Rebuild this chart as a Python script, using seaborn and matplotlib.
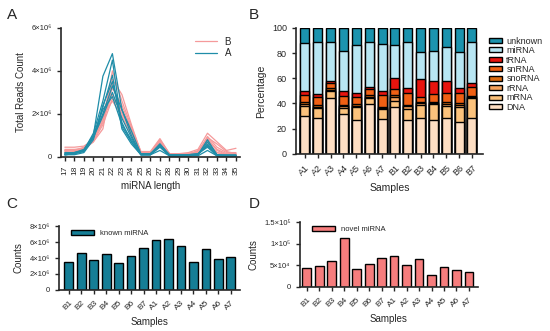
import numpy as np
import pandas as pd
import matplotlib
matplotlib.use('Agg')
import matplotlib.pyplot as plt
import seaborn as sns

# ---- data ----
lengths = list(range(17, 36))
reads_a = {
    'A1': [0.15, 0.2, 0.25, 1.0, 3.75, 4.8, 2.2, 1.0, 0.1, 0.1, 0.45, 0.05, 0.05, 0.05, 0.1, 0.55, 0.05, 0.05, 0.05],
    'A2': [0.1, 0.15, 0.3, 1.1, 2.6, 4.5, 1.4, 0.7, 0.1, 0.1, 0.6, 0.05, 0.05, 0.05, 0.1, 0.8, 0.1, 0.05, 0.05],
    'A3': [0.1, 0.15, 0.25, 0.9, 2.3, 3.8, 1.3, 0.6, 0.1, 0.1, 0.3, 0.05, 0.05, 0.05, 0.05, 0.3, 0.05, 0.05, 0.05],
    'A4': [0.15, 0.2, 0.3, 1.0, 2.0, 3.3, 2.2, 1.2, 0.15, 0.15, 0.5, 0.1, 0.1, 0.1, 0.15, 0.5, 0.1, 0.1, 0.1],
    'A5': [0.1, 0.15, 0.3, 0.9, 1.9, 3.0, 1.8, 0.9, 0.1, 0.15, 0.6, 0.1, 0.05, 0.1, 0.1, 0.7, 0.1, 0.05, 0.05],
    'A6': [0.2, 0.2, 0.35, 1.0, 2.2, 2.8, 1.5, 0.8, 0.15, 0.15, 0.5, 0.1, 0.1, 0.1, 0.15, 0.45, 0.05, 0.05, 0.05],
    'A7': [0.1, 0.1, 0.2, 0.8, 2.4, 3.5, 1.6, 0.7, 0.1, 0.1, 0.55, 0.05, 0.05, 0.05, 0.1, 0.6, 0.05, 0.05, 0.05],
}
reads_b = {
    'B1': [0.45, 0.45, 0.5, 0.8, 1.6, 4.0, 2.6, 1.4, 0.25, 0.25, 0.85, 0.15, 0.15, 0.2, 0.35, 1.1, 0.7, 0.3, 0.4],
    'B2': [0.3, 0.3, 0.4, 0.7, 1.3, 3.6, 2.9, 1.5, 0.2, 0.2, 0.7, 0.15, 0.15, 0.15, 0.25, 0.9, 0.6, 0.25, 0.15],
    'B3': [0.35, 0.35, 0.4, 0.9, 1.8, 3.2, 2.4, 1.3, 0.2, 0.2, 0.8, 0.15, 0.1, 0.15, 0.25, 0.85, 0.35, 0.15, 0.15],
    'B4': [0.2, 0.25, 0.35, 0.75, 1.7, 2.9, 2.0, 1.2, 0.15, 0.2, 0.6, 0.1, 0.1, 0.1, 0.2, 0.7, 0.2, 0.1, 0.1],
    'B5': [0.25, 0.3, 0.35, 0.7, 1.5, 2.7, 2.2, 1.1, 0.2, 0.2, 0.75, 0.1, 0.1, 0.15, 0.2, 0.95, 0.45, 0.2, 0.2],
    'B6': [0.3, 0.3, 0.45, 0.8, 1.9, 2.6, 1.9, 1.0, 0.15, 0.15, 0.65, 0.1, 0.15, 0.1, 0.3, 0.8, 0.3, 0.1, 0.1],
    'B7': [0.2, 0.2, 0.3, 0.85, 2.0, 3.4, 2.1, 1.3, 0.2, 0.2, 0.7, 0.15, 0.1, 0.15, 0.2, 0.6, 0.2, 0.1, 0.1],
}

samples_b = ['A1', 'A2', 'A3', 'A4', 'A5', 'A6', 'A7', 'B1', 'B2', 'B3', 'B4', 'B5', 'B6', 'B7']
rna_types = ['DNA', 'mRNA', 'rRNA', 'snoRNA', 'snRNA', 'tRNA', 'miRNA', 'unknown']
pct = {
    'DNA':     [30, 28.5, 44, 31.5, 27, 39.5, 27.5, 37, 26.5, 28.5, 27, 28.5, 25, 28.5],
    'mRNA':    [8, 8, 6, 5, 10, 5, 8, 5, 9.5, 10, 12.5, 9.5, 12, 15.5],
    'rRNA':    [1.5, 1, 1, 1.5, 1, 1, 1, 3, 2, 1.5, 1, 1.5, 1.5, 1],
    'snoRNA':  [1.5, 1, 1, 1, 1.5, 1.5, 1, 1.5, 1, 1.5, 1, 1.5, 1.5, 1],
    'snRNA':   [5.5, 7, 4, 7, 6, 4.5, 9, 5, 9.5, 4, 6, 7, 8.5, 7],
    'tRNA':    [3.5, 2, 2, 3.5, 3, 1.5, 3.5, 9, 3.5, 14, 10, 10, 4, 3.5],
    'miRNA':   [38, 41, 31, 32, 37.5, 35.5, 37, 25.5, 36.5, 21.5, 24.5, 26.5, 28.5, 32.5],
    'unknown': [12, 11.5, 11, 18.5, 14, 11.5, 13, 13.5, 11.5, 19, 18, 15.5, 19, 11],
}
type_colors = {
    'DNA': '#FDDEC3', 'mRNA': '#FBC27C', 'rRNA': '#F7A25C', 'snoRNA': '#DC6A10',
    'snRNA': '#F06014', 'tRNA': '#E8140E', 'miRNA': '#B8E6F3', 'unknown': '#1B93AE',
}

samples_cd = ['B1', 'B2', 'B3', 'B4', 'B5', 'B6', 'B7', 'A1', 'A2', 'A3', 'A4', 'A5', 'A6', 'A7']
known_mirna = [3.55e6, 4.6e6, 3.75e6, 4.45e6, 3.35e6, 4.25e6, 5.25e6, 6.28e6, 6.4e6, 5.55e6, 3.47e6, 5.15e6, 3.85e6, 4.1e6]
novel_mirna = [44.5e3, 48.5e3, 59e3, 114e3, 42e3, 53e3, 66e3, 71e3, 51e3, 65e3, 28e3, 47e3, 39e3, 34e3]

sns.set_style('ticks')
plt.rcParams['font.family'] = ['Liberation Sans', 'DejaVu Sans']
plt.rcParams['axes.linewidth'] = 1.2
plt.rcParams['xtick.major.width'] = 1.0
plt.rcParams['ytick.major.width'] = 1.0
plt.rcParams['xtick.major.size'] = 3
plt.rcParams['ytick.major.size'] = 3

fig = plt.figure(figsize=(5.5, 3.31), dpi=100)
ax_a = fig.add_axes([0.111, 0.526, 0.325, 0.39])
ax_b = fig.add_axes([0.538, 0.535, 0.34, 0.381])
ax_c = fig.add_axes([0.107, 0.124, 0.329, 0.193])
ax_d = fig.add_axes([0.545, 0.133, 0.324, 0.196])

# ---- A: read length distribution ----
rows = []
for grp, d in [('B', reads_b), ('A', reads_a)]:
    for s, vals in d.items():
        for L, v in zip(lengths, vals):
            rows.append({'length': L, 'count': v * 1e6, 'sample': s, 'group': grp})
df_a = pd.DataFrame(rows)
sns.lineplot(data=df_a, x='length', y='count', hue='group', units='sample', estimator=None,
             hue_order=['B', 'A'], palette={'B': '#F59A9B', 'A': '#1F8DA8'},
             linewidth=0.9, ax=ax_a)
ax_a.set_xlim(16.6, 35.4)
ax_a.set_ylim(0, 6e6)
ax_a.set_xticks(lengths)
ax_a.set_xticklabels([str(L) for L in lengths], rotation=90, fontsize=6)
ax_a.set_yticks([0, 2e6, 4e6, 6e6])
ax_a.set_yticklabels(['0', '2×10⁶', '4×10⁶', '6×10⁶'], fontsize=5.5)
ax_a.set_xlabel('miRNA length', fontsize=7)
ax_a.set_ylabel('Total Reads Count', fontsize=7)
ax_a.legend(frameon=False, fontsize=7, loc='upper right', handlelength=2.2,
            bbox_to_anchor=(1.0, 1.0), title=None, labelspacing=0.2)

# ---- B: stacked composition ----
cum = np.zeros(len(samples_b))
cums = {}
for t in rna_types:
    cum = cum + np.array(pct[t])
    cums[t] = cum.copy()
for t in rna_types[::-1]:
    sns.barplot(x=samples_b, y=cums[t], color=type_colors[t], saturation=1,
                edgecolor='black', linewidth=1.0, width=0.7, label=t, ax=ax_b)
ax_b.set_ylim(0, 100)
ax_b.set_xlim(-0.7, 13.85)
ax_b.set_yticks([0, 20, 40, 60, 80, 100])
ax_b.tick_params(axis='both', labelsize=6.5)
plt.setp(ax_b.get_xticklabels(), rotation=45, ha='right', rotation_mode='anchor')
ax_b.set_xlabel('Samples', fontsize=7.5)
ax_b.set_ylabel('Percentage', fontsize=7.5)
ax_b.legend(frameon=False, fontsize=6.5, loc='upper left', bbox_to_anchor=(1.0, 0.98),
            handlelength=1.4, handleheight=0.5, labelspacing=0.05, borderaxespad=0.3,
            handletextpad=0.5)

# ---- C: known miRNA ----
sns.barplot(x=samples_cd, y=known_mirna, color='#157E96', saturation=1, edgecolor='black',
            linewidth=1.0, width=0.7, label='known miRNA', ax=ax_c)
ax_c.set_ylim(0, 8e6)
ax_c.set_xlim(-0.8, 13.72)
ax_c.set_yticks([0, 2e6, 4e6, 6e6, 8e6])
ax_c.set_yticklabels(['0', '2×10⁶', '4×10⁶', '6×10⁶', '8×10⁶'], fontsize=5.5)
ax_c.tick_params(axis='x', labelsize=6)
plt.setp(ax_c.get_xticklabels(), rotation=45, ha='right', rotation_mode='anchor')
ax_c.set_xlabel('Samples', fontsize=7)
ax_c.set_ylabel('Counts', fontsize=7)
ax_c.legend(frameon=False, fontsize=5.5, loc='upper left', bbox_to_anchor=(0.03, 1.05),
            handlelength=3.0, handleheight=0.6)

# ---- D: novel miRNA ----
sns.barplot(x=samples_cd, y=novel_mirna, color='#F67D7D', saturation=1, edgecolor='black',
            linewidth=1.0, width=0.7, label='novel miRNA', ax=ax_d)
ax_d.set_ylim(0, 1.5e5)
ax_d.set_xlim(-0.56, 13.72)
ax_d.set_yticks([0, 5e4, 1e5, 1.5e5])
ax_d.set_yticklabels(['0', '5×10⁴', '1×10⁵', '1.5×10⁵'], fontsize=5.5)
ax_d.tick_params(axis='x', labelsize=6)
plt.setp(ax_d.get_xticklabels(), rotation=45, ha='right', rotation_mode='anchor')
ax_d.set_xlabel('Samples', fontsize=7)
ax_d.set_ylabel('Counts', fontsize=7)
ax_d.legend(frameon=False, fontsize=5.5, loc='upper left', bbox_to_anchor=(0.03, 1.05),
            handlelength=3.0, handleheight=0.6)

for ax in (ax_a, ax_b, ax_c, ax_d):
    sns.despine(ax=ax)

for lab, x, y in [('A', 0.012, 0.975), ('B', 0.452, 0.975), ('C', 0.012, 0.405), ('D', 0.452, 0.405)]:
    fig.text(x, y, lab, fontsize=11, ha='left', va='top')

fig.savefig('out.png', dpi=100)
